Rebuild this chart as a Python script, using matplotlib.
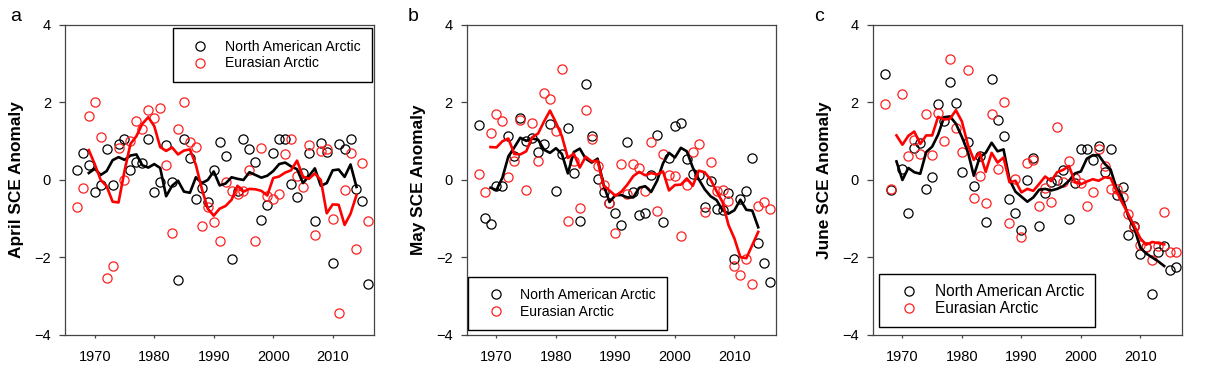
import numpy as np
import matplotlib
matplotlib.use("Agg")
import matplotlib.pyplot as plt

plt.rcParams['font.family'] = ['Liberation Sans', 'DejaVu Sans']

nan = np.nan
years = list(range(1967, 2017))
years_mean = list(range(1969, 2015))

# April
na_apr = [0.25, 0.70, 0.38, -0.30, -0.13, 0.81, -0.13, 0.92, 1.07, 0.27,
          0.46, 0.44, 1.05, -0.30, -0.05, 0.89, -0.06, -2.57, 1.05, 0.57,
          -0.48, -0.20, -0.57, 0.27, 0.98, 0.63, -2.03, -0.28, 1.05, 0.79,
          0.46, -1.02, -0.65, 0.70, 1.05, 1.05, -0.10, -0.44, 0.19, 0.70,
          -1.05, 0.96, 0.72, -2.14, 0.92, 0.79, 1.05, -0.23, -0.53, -2.68]
eu_apr = [-0.70, -0.20, 1.64, 2.01, 1.11, -2.52, -2.23, 0.82, 0.01, 1.00,
          1.53, 1.31, 1.80, 1.59, 1.86, 0.38, -1.37, 1.31, 2.01, 0.98,
          0.86, -1.20, -0.70, -1.08, -1.58, -0.05, -0.29, -0.35, -0.29, 0.25,
          -1.57, 0.83, -0.42, -0.48, -0.35, 0.66, 1.05, 0.09, -0.19, 0.89,
          -1.41, 0.75, 0.79, -1.00, -3.44, -0.26, 0.69, -1.78, 0.44, -1.05]
na_apr_mean = [0.18, 0.29, 0.13, 0.23, 0.51, 0.59, 0.52, 0.63, 0.66, 0.38, 0.32,
               0.41, 0.31, -0.42, -0.15, -0.02, -0.30, -0.33, 0.07, -0.08, 0.00,
               0.22, -0.14, -0.09, 0.07, 0.03, 0.00, 0.20, 0.13, 0.06, 0.11,
               0.23, 0.41, 0.45, 0.35, 0.28, -0.08, 0.10, 0.30, -0.15, -0.08,
               0.25, 0.27, 0.08, 0.40, -0.18]
eu_apr_mean = [0.77, 0.41, 0.00, -0.16, -0.56, -0.58, 0.23, 0.93, 1.13, 1.45, 1.62,
               1.39, 0.85, 0.75, 0.84, 0.66, 0.76, 0.79, 0.39, -0.23, -0.74,
               -0.92, -0.74, -0.67, -0.51, -0.15, -0.30, -0.23, -0.24, -0.28, -0.40,
               0.05, 0.09, 0.19, 0.25, 0.50, 0.09, 0.03, 0.17, 0.00, -0.86,
               -0.63, -0.64, -1.16, -0.87, -0.39]

# May
na_may = [1.43, -0.99, -1.13, -0.16, -0.15, 1.14, 0.61, 1.59, 1.01, 1.09,
          0.73, 0.92, 1.45, -0.29, 0.68, 1.35, 0.18, -1.06, 2.47, 1.13,
          0.03, -0.30, -0.60, -0.84, -1.16, 0.97, -0.32, -0.90, -0.86, 0.12,
          1.16, -1.09, 0.57, 1.39, 1.47, 0.54, 0.16, 0.14, -0.70, -0.03,
          -0.75, -0.77, -0.33, -2.03, -0.48, -0.28, 0.58, -1.62, -2.15, -2.62]
eu_may = [0.16, -0.31, 1.20, 1.70, 1.52, 0.07, 0.49, 1.55, -0.27, 1.47,
          0.48, 2.25, 2.09, 1.27, 2.86, -1.06, 0.49, -0.71, 1.80, 1.07,
          0.35, -0.12, -0.60, -1.38, 0.41, -0.35, 0.41, 0.31, -0.29, 0.98,
          -0.79, 0.67, 0.12, 0.10, -1.44, -0.12, 0.72, 0.94, -0.83, 0.47,
          -0.29, -0.26, -0.55, -2.23, -2.46, -2.03, -2.68, -0.68, -0.57, -0.75]
na_may_mean = [-0.20, -0.26, 0.06, 0.61, 0.84, 1.09, 1.01, 1.07, 1.04, 0.78, 0.70,
               0.82, 0.67, 0.17, 0.72, 0.81, 0.55, 0.45, 0.55, -0.12, -0.57,
               -0.39, -0.39, -0.45, -0.45, -0.20, -0.16, -0.31, -0.02, 0.43, 0.70,
               0.58, 0.83, 0.74, 0.32, 0.02, -0.24, -0.42, -0.52, -0.78, -0.87,
               -0.78, -0.51, -0.77, -0.79, -1.22]
eu_may_mean = [0.85, 0.84, 1.00, 1.07, 0.67, 0.66, 0.74, 1.10, 1.20, 1.51, 1.79,
               1.48, 1.13, 0.57, 0.68, 0.32, 0.60, 0.48, 0.50, -0.14, -0.27,
               -0.41, -0.30, -0.12, 0.10, 0.21, 0.12, 0.18, 0.14, 0.22, -0.27,
               -0.13, -0.12, 0.04, -0.15, 0.24, 0.20, 0.01, -0.29, -0.57, -1.16,
               -1.51, -1.99, -2.02, -1.68, -1.34]

# June (no 1969 value)
na_jun = [2.74, -0.27, nan, 0.29, -0.85, 0.83, 0.95, -0.23, 0.08, 1.97,
          1.51, 2.54, 1.99, 0.20, 0.99, -0.16, 0.61, -1.09, 2.60, 1.56,
          1.14, -0.49, -0.86, -1.29, -0.01, 0.56, -1.19, -0.34, -0.05, -0.01,
          0.26, -1.00, -0.08, 0.79, 0.81, 0.52, 0.87, 0.20, 0.79, -0.38,
          -0.18, -1.42, -1.20, -1.91, -1.72, -2.95, -1.85, -1.70, -2.31, -2.24]
eu_jun = [1.96, -0.23, nan, 2.22, 0.63, 1.03, 0.68, 1.69, 0.64, 1.72,
          1.00, 3.12, 1.34, 0.73, 2.83, -0.46, 0.10, -0.60, 1.70, 0.29,
          2.00, -1.12, 0.03, -1.48, 0.45, 0.51, -0.67, -0.21, -0.58, 1.38,
          -0.05, 0.48, 0.05, -0.08, -0.67, -0.32, 0.80, 0.35, -0.24, -0.24,
          -0.44, -0.89, -1.21, -1.67, -1.72, -2.07, -1.70, -0.82, -1.86, -1.86]
na_jun_mean = [0.48, 0.00, 0.31, 0.20, 0.16, 0.72, 0.86, 1.17, 1.62, 1.64, 1.45,
               1.11, 0.73, 0.11, 0.59, 0.70, 0.96, 0.74, 0.79, 0.01, -0.30,
               -0.43, -0.56, -0.45, -0.25, -0.23, -0.27, -0.23, -0.16, -0.02, 0.17,
               0.22, 0.55, 0.64, 0.64, 0.42, 0.27, -0.22, -0.47, -0.95, -1.25,
               -1.75, -1.90, -2.00, -2.10, -2.22]
eu_jun_mean = [1.15, 0.91, 1.14, 1.25, 0.93, 1.15, 1.15, 1.63, 1.56, 1.58, 1.80,
               1.51, 0.91, 0.52, 0.71, 0.21, 0.70, 0.45, 0.58, -0.06, -0.02,
               -0.32, -0.23, -0.28, -0.10, 0.09, -0.03, 0.20, 0.26, 0.36, -0.05,
               -0.11, -0.04, 0.02, -0.02, 0.07, 0.05, -0.29, -0.60, -0.89, -1.19,
               -1.51, -1.67, -1.60, -1.63, -1.66]

labels = ["North American Arctic", "Eurasian Arctic"]
xticks = [1970, 1980, 1990, 2000, 2010]
yticks = [-4, -2, 0, 2, 4]

fig = plt.figure(figsize=(12.06, 3.74), dpi=100)

panels = [
    ("a", "April SCE Anomaly", na_apr, eu_apr, na_apr_mean, eu_apr_mean, 0.0539),
    ("b", "May SCE Anomaly", na_may, eu_may, na_may_mean, eu_may_mean, 0.3870),
    ("c", "June SCE Anomaly", na_jun, eu_jun, na_jun_mean, eu_jun_mean, 0.7236),
]
letter_x = [0.0133, 0.3425, 0.6795]

for i, (letter, ylab, na, eu, na_m, eu_m, left) in enumerate(panels):
    ax = fig.add_axes([left, 0.1043, 0.2565, 0.8289])

    ax.plot(years, na, 'o', mfc='none', mec='black', ms=6.6, mew=0.9, label=labels[0])
    ax.plot(years, eu, 'o', mfc='none', mec='#ff2020', ms=6.6, mew=0.9, label=labels[1])
    ax.plot(years_mean, na_m, color='black', lw=1.9)
    ax.plot(years_mean, eu_m, color='red', lw=1.9)

    ax.set_xlim(1965.0, 2017.0)
    ax.set_ylim(-4, 4)
    ax.set_xticks(xticks)
    ax.set_yticks(yticks)
    ax.tick_params(axis='y', direction='out', length=4.5, width=0.9, color='#444444',
                   pad=5.5, labelsize=10.5)
    ax.tick_params(axis='x', direction='out', length=2.5, width=0.9, color='#444444',
                   pad=8.5, labelsize=10.5)
    for s in ax.spines.values():
        s.set_color('#444444')
        s.set_linewidth(0.9)

    ax.set_ylabel(ylab, fontsize=12.4, fontweight='bold')
    ax.yaxis.set_label_coords(-0.132, 0.5)
    fig.text(letter_x[i], 0.955, letter, fontsize=14, ha='center', va='center')

    if i == 0:
        leg = ax.legend(loc='upper right', bbox_to_anchor=(0.991, 0.989),
                        borderaxespad=0, fontsize=10.1, borderpad=0.8,
                        handlelength=2.3, handletextpad=0.6, labelspacing=0.2)
    elif i == 1:
        leg = ax.legend(loc='lower left', bbox_to_anchor=(0.005, 0.016),
                        borderaxespad=0, fontsize=10.1, borderpad=0.8,
                        handlelength=2.3, handletextpad=0.6, labelspacing=0.2)
    else:
        leg = ax.legend(loc='lower left', bbox_to_anchor=(0.021, 0.025),
                        borderaxespad=0, fontsize=11.2, borderpad=0.7,
                        handlelength=2.45, handletextpad=0.45, labelspacing=0.12)
    leg.get_frame().set_edgecolor('black')
    leg.get_frame().set_linewidth(1.0)
    leg.get_frame().set_boxstyle('square', pad=0)
    leg.get_frame().set_alpha(1)

fig.savefig("out.png", dpi=100)
